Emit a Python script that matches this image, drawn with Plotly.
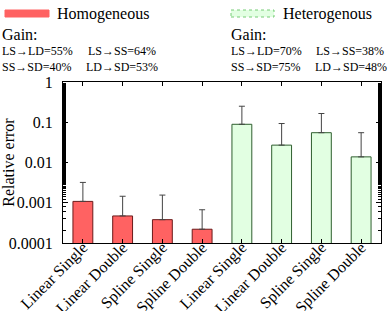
import plotly.graph_objects as go

categories = ["Linear Single", "Linear Double", "Spline Single", "Spline Double"]
homo_vals = [0.00108, 0.00047, 0.00038, 0.00022]
homo_top = [0.0032, 0.00145, 0.00155, 0.00067]
hetero_vals = [0.089, 0.027, 0.055, 0.0138]
hetero_top = [0.25, 0.093, 0.165, 0.055]
ytick_vals = [0.0001, 0.001, 0.01, 0.1, 1]
ytick_text = ["0.0001", "0.001", "0.01", "0.1", "1"]
homo_gain = ["LS\u2192LD=55%", "LS\u2192SS=64%", "SS\u2192SD=40%", "LD\u2192SD=53%"]
hetero_gain = ["LS\u2192LD=70%", "LS\u2192SS=38%", "SS\u2192SD=75%", "LD\u2192SD=48%"]

FONT = "Liberation Serif"
x_pos = list(range(8))
x_labels = categories + categories

fig = go.Figure()
fig.add_trace(go.Bar(
    x=x_pos[:4], y=homo_vals, width=0.5,
    marker=dict(color="#FF6262", line=dict(color="#6b1a1a", width=1)),
    error_y=dict(type="data", symmetric=False,
                 array=[t - v for t, v in zip(homo_top, homo_vals)],
                 arrayminus=[0] * 4, color="#444", thickness=1, width=3),
    showlegend=False))
fig.add_trace(go.Bar(
    x=x_pos[4:], y=hetero_vals, width=0.5,
    marker=dict(color="#E2FFE2", line=dict(color="#2f5f2f", width=1)),
    error_y=dict(type="data", symmetric=False,
                 array=[t - v for t, v in zip(hetero_top, hetero_vals)],
                 arrayminus=[0] * 4, color="#444", thickness=1, width=3),
    showlegend=False))

fig.update_layout(
    width=389, height=311,
    margin=dict(l=63, r=8, t=82, b=68),
    paper_bgcolor="white", plot_bgcolor="white",
    font=dict(family=FONT, size=16, color="black"),
    bargap=0.5,
)
fig.update_xaxes(
    range=[-0.5, 7.5], tickmode="array", tickvals=x_pos, ticktext=x_labels,
    tickangle=-45, ticks="inside", ticklen=4, tickcolor="black",
    showline=True, linecolor="black", linewidth=1, mirror="allticks",
    showgrid=False, zeroline=False, tickfont=dict(size=16, family=FONT),
    automargin=False, ticklabelstandoff=-12,
)
fig.update_yaxes(
    type="log", range=[-4, 0], tickmode="array", tickvals=ytick_vals, ticktext=ytick_text,
    ticks="inside", ticklen=5, tickcolor="black",
    minor=dict(ticks="inside", ticklen=3, tickcolor="black", showgrid=False),
    showline=True, linecolor="black", linewidth=1, mirror="allticks",
    showgrid=False, zeroline=False, tickfont=dict(size=16, family=FONT),
    ticklabelstandoff=6, automargin=False,
    title=dict(text="Relative error", font=dict(size=16, family=FONT), standoff=6),
)

# legend patches
fig.add_shape(type="rect", xref="paper", yref="paper",
              x0=(5 - 63) / 318, x1=(49 - 63) / 318,
              y0=(243 - 17) / 161, y1=(243 - 10) / 161,
              fillcolor="#FF6262", line=dict(color="#FF6262", width=1))
fig.add_shape(type="rect", xref="paper", yref="paper",
              x0=(231 - 63) / 318, x1=(274 - 63) / 318,
              y0=(243 - 17) / 161, y1=(243 - 10) / 161,
              fillcolor="#E2FFE2", line=dict(color="#77cc77", width=1, dash="dot"))

def ann(x, y, text, size):
    fig.add_annotation(xref="paper", yref="paper",
                       x=(x - 63) / 318, y=(243 - y) / 161,
                       text=text, showarrow=False, xanchor="left", yanchor="middle",
                       borderpad=0,
                       font=dict(size=size, family=FONT, color="black"))

ann(56, 14, "Homogeneous", 16)
ann(282, 14, "Heterogenous", 16)
ann(1, 34, "Gain:", 16)
ann(230, 34, "Gain:", 16)
ann(1, 51, homo_gain[0], 12)
ann(87, 51, homo_gain[1], 12)
ann(1, 67, homo_gain[2], 12)
ann(85, 67, homo_gain[3], 12)
ann(230, 51, hetero_gain[0], 12)
ann(315, 51, hetero_gain[1], 12)
ann(230, 67, hetero_gain[2], 12)
ann(314, 67, hetero_gain[3], 12)

fig.write_html("out.html")
